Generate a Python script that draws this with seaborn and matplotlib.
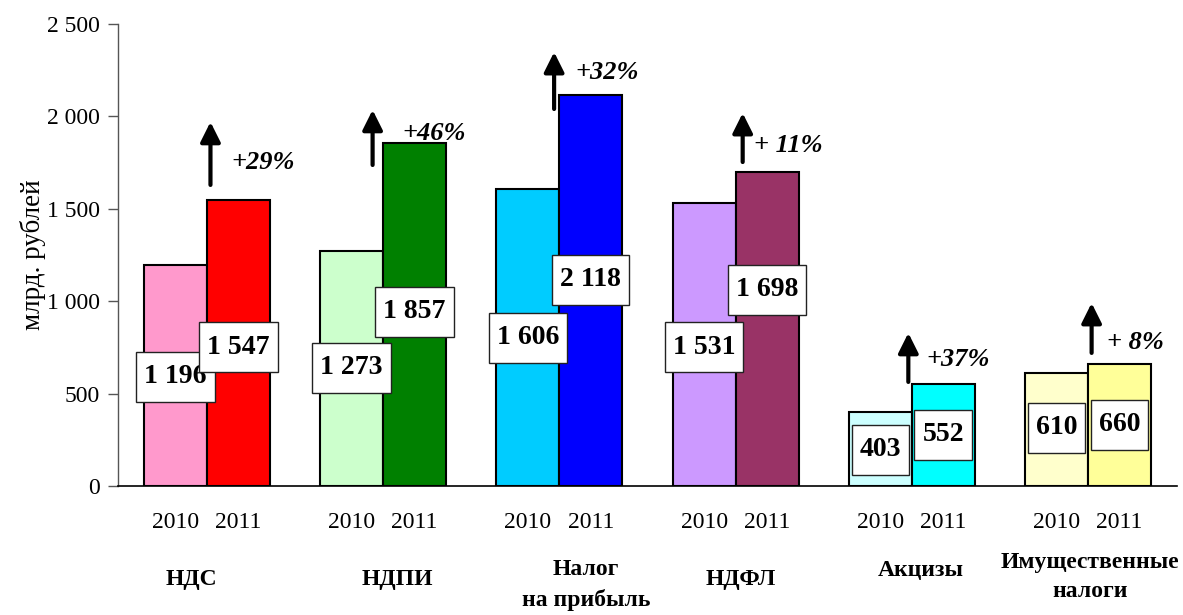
import matplotlib
matplotlib.use("Agg")
import matplotlib.pyplot as plt
import seaborn as sns
import pandas as pd
from matplotlib.path import Path
from matplotlib.transforms import blended_transform_factory

# ---- data ----
categories = ["НДС", "НДПИ", "Налог\nна прибыль", "НДФЛ", "Акцизы", "Имущественные\nналоги"]
years = ["2010", "2011"]
values_2010 = [1196, 1273, 1606, 1531, 403, 610]
values_2011 = [1547, 1857, 2118, 1698, 552, 660]
growth_labels = ["+29%", "+46%", "+32%", "+ 11%", "+37%", "+ 8%"]
value_labels_2010 = ["1 196", "1 273", "1 606", "1 531", "403", "610"]
value_labels_2011 = ["1 547", "1 857", "2 118", "1 698", "552", "660"]
yticks = [0, 500, 1000, 1500, 2000, 2500]
ytick_labels = ["0", "500", "1 000", "1 500", "2 000", "2 500"]
colors_2010 = ["#FF99CC", "#CCFFCC", "#00CCFF", "#CC99FF", "#CCFFFF", "#FFFFCC"]
colors_2011 = ["#FF0000", "#008000", "#0000FF", "#993366", "#00FFFF", "#FFFF99"]

# ---- layout constants ----
label_y_2010 = [590, 639, 801, 752, 195, 314]
label_y_2011 = [752, 942, 1115, 1061, 276, 330]
arrow_x_off = [0.02, -0.06, -0.03, 0.04, -0.02, 0.02]
arrow_y0 = [1629, 1737, 2040, 1753, 563, 720]
arrow_y1 = [1970, 2035, 2348, 2018, 828, 990]
pct_x_off = [0.32, 0.29, 0.27, 0.30, 0.26, 0.27]
pct_y = [1753, 1910, 2240, 1845, 682, 779]
cat_x_off = [-0.09, 0.08, 0.15, 0.03, 0.05, 0.01]
cat_y = [-0.203, -0.203, -0.214, -0.203, -0.182, -0.197]


class AsymSquare:
    """Square box with separate horizontal / vertical padding (fractions of font size)."""
    def __init__(self, padx=0.29, pady=0.45):
        self.padx, self.pady = padx, pady

    def __call__(self, x0, y0, width, height, mutation_size):
        px, py = self.padx * mutation_size, self.pady * mutation_size
        x0, y0 = x0 - px, y0 - py
        x1, y1 = x0 + width + 2 * px, y0 + height + 2 * py
        return Path([(x0, y0), (x1, y0), (x1, y1), (x0, y1), (x0, y0)], closed=True)


df = pd.DataFrame({
    "cat": categories * 2,
    "year": [years[0]] * len(categories) + [years[1]] * len(categories),
    "value": values_2010 + values_2011,
})

sns.set_style("white")
plt.rcParams["font.family"] = ["Liberation Serif", "DejaVu Serif"]
plt.rcParams["text.color"] = "black"
plt.rcParams["axes.labelcolor"] = "black"
plt.rcParams["ytick.color"] = "black"
plt.rcParams["xtick.color"] = "black"

fig = plt.figure(figsize=(11.83, 6.15), dpi=100)
ax = fig.add_axes([0.0997, 0.2098, 0.8953, 0.7512])

sns.barplot(data=df, x="cat", y="value", hue="year", order=categories,
            hue_order=years, width=0.714, legend=False, ax=ax,
            edgecolor="black", linewidth=1.5, saturation=1)

for cont, cols in zip(ax.containers, [colors_2010, colors_2011]):
    for patch, c in zip(cont, cols):
        patch.set_facecolor(c)
        patch.set_edgecolor("black")

half = 0.714 / 4
for i in range(len(categories)):
    for xv, yv, s in [(i - half, label_y_2010[i], value_labels_2010[i]),
                      (i + half, label_y_2011[i], value_labels_2011[i])]:
        ax.text(xv, yv, s, ha="center", va="center", fontsize=20, fontweight="bold",
                bbox=dict(boxstyle=AsymSquare(), facecolor="white", edgecolor="#222222",
                          linewidth=1), zorder=5)
    ax.annotate("", xy=(i + arrow_x_off[i], arrow_y1[i]), xytext=(i + arrow_x_off[i], arrow_y0[i]),
                arrowprops=dict(arrowstyle="-|>", lw=3, color="black", mutation_scale=30,
                                shrinkA=0, shrinkB=0), zorder=6)
    ax.text(i + pct_x_off[i], pct_y[i], growth_labels[i], ha="center", va="center",
            fontsize=19, fontweight="bold", fontstyle="italic", zorder=6)

trans = blended_transform_factory(ax.transData, ax.transAxes)
for i in range(len(categories)):
    ax.text(i - half, -0.078, years[0], transform=trans, ha="center", va="center", fontsize=17)
    ax.text(i + half, -0.078, years[1], transform=trans, ha="center", va="center", fontsize=17)
    ax.text(i + cat_x_off[i], cat_y[i], categories[i], transform=trans, ha="center",
            va="center", fontsize=17, fontweight="bold", linespacing=1.5)

ax.set_xlim(-0.505, 5.505)
ax.set_ylim(0, 2500)
ax.set_xticks([])
ax.set_xlabel("")
ax.set_yticks(yticks)
ax.set_yticklabels(ytick_labels, fontsize=17)
ax.set_ylabel("млрд. рублей", fontsize=19.5, labelpad=1)
ax.tick_params(axis="y", direction="out", length=7, width=1, color="#555555", left=True, pad=6)

for s in ["top", "right"]:
    ax.spines[s].set_visible(False)
ax.spines["left"].set_color("#555555")
ax.spines["left"].set_linewidth(1)
ax.spines["bottom"].set_color("black")
ax.spines["bottom"].set_linewidth(1.2)

fig.savefig("out.png", dpi=100)
